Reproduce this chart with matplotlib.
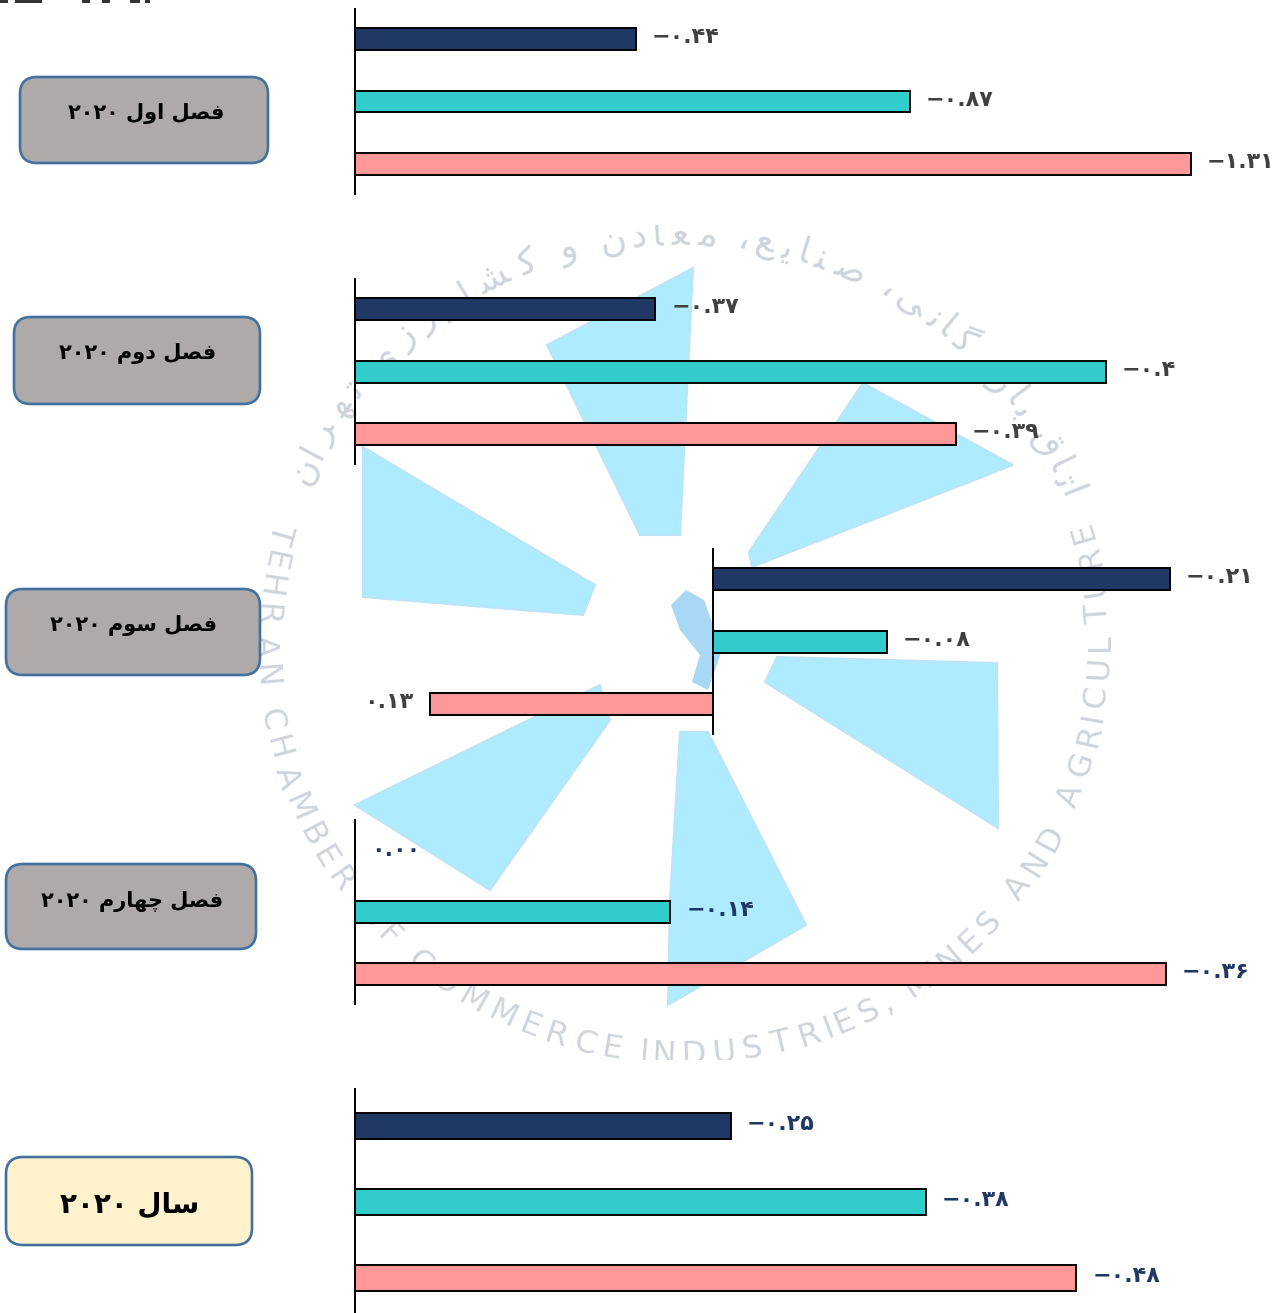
import numpy as np
import matplotlib
matplotlib.use('Agg')
import matplotlib.pyplot as plt
from matplotlib.patches import FancyBboxPatch, Polygon, Rectangle
from matplotlib.textpath import TextPath

plt.rcParams['font.family'] = ['DejaVu Sans']

W, H = 1280, 1313

# Data
box_titles = ['فصل اول ۲۰۲۰', 'فصل دوم ۲۰۲۰', 'فصل سوم ۲۰۲۰', 'فصل چهارم ۲۰۲۰', 'سال ۲۰۲۰']

# bar lengths, negative goes to the right (axis is reversed in the original)
values_q1 = [-0.44, -0.87, -1.31]
values_q2 = [-0.16, -0.40, -0.32]   # printed labels of q2 do not follow the bar lengths
values_q3 = [-0.21, -0.08, 0.13]
values_q4 = [0.00, -0.14, -0.36]
values_year = [-0.25, -0.38, -0.48]

labels_q1 = ['−۰.۴۴', '−۰.۸۷', '−۱.۳۱']
labels_q2 = ['−۰.۳۷', '−۰.۴', '−۰.۳۹']
labels_q3 = ['−۰.۲۱', '−۰.۰۸', '۰.۱۳']
labels_q4 = ['۰.۰۰', '−۰.۱۴', '−۰.۳۶']
labels_year = ['−۰.۲۵', '−۰.۳۸', '−۰.۴۸']

bar_colors = ['#1F3864', '#33CCCC', '#FF9999']

ring_en = 'TEHRAN CHAMBER OF COMMERCE INDUSTRIES, MINES AND AGRICULTURE'
ring_fa = 'اتاق بازرگانی، صنایع، معادن و کشاورزی تهران'

# Functions
FORMS = {'ا': 'ﺍﺎ', 'د': 'ﺩﺪ', 'ر': 'ﺭﺮ', 'ز': 'ﺯﺰ', 'و': 'ﻭﻮ',
         'ب': 'ﺏﺐﺑﺒ', 'ت': 'ﺕﺖﺗﺘ', 'س': 'ﺱﺲﺳﺴ', 'ش': 'ﺵﺶﺷﺸ', 'ص': 'ﺹﺺﺻﺼ',
         'ع': 'ﻉﻊﻋﻌ', 'ف': 'ﻑﻒﻓﻔ', 'ق': 'ﻕﻖﻗﻘ', 'ل': 'ﻝﻞﻟﻠ', 'م': 'ﻡﻢﻣﻤ',
         'ن': 'ﻥﻦﻧﻨ', 'ه': 'ﻩﻪﻫﻬ', 'ی': 'ﯼﯽﯾﯿ', 'چ': 'ﭺﭻﭼﭽ', 'ک': 'ﮎﮏﮐﮑ', 'گ': 'ﮒﮓﮔﮕ'}


def shape_word(word):
    out = []
    for i, ch in enumerate(word):
        if ch not in FORMS:
            out.append(ch)
            continue
        prev_joins = i > 0 and word[i - 1] in FORMS and len(FORMS[word[i - 1]]) == 4
        next_joins = i < len(word) - 1 and word[i + 1] in FORMS and len(FORMS[ch]) == 4
        idx = {(False, False): 0, (True, False): 1, (False, True): 2, (True, True): 3}[(prev_joins, next_joins)]
        out.append(FORMS[ch][idx])
    return ''.join(reversed(out))


def shape(text):
    # matplotlib has no bidi or shaping, so build the visual order by hand
    words = []
    for w in reversed(text.split(' ')):
        words.append(w if w[0] in '۰۱۲۳۴۵۶۷۸۹' else shape_word(w))
    return ' '.join(words)


def px_axes(x0, y0, x1, y1):
    # axes from pixel box, y from the top of the image
    return fig.add_axes([x0 / W, 1 - y1 / H, (x1 - x0) / W, (y1 - y0) / H])


def ring_text(ax, chars, start, stop, rot0, size):
    # spread the glyphs along the arc by their own width
    widths = []
    for ch in chars:
        if ch == ' ':
            widths.append(size * 0.35)
        else:
            widths.append(TextPath((0, 0), ch, size=size).get_extents().width + size * 0.14)
    widths = np.array(widths)
    edges = np.concatenate([[0], np.cumsum(widths)])
    mids = (edges[:-1] + edges[1:]) / 2 / edges[-1]
    for ch, m in zip(chars, mids):
        phi = np.radians(start + (stop - start) * m)
        x = 682 + 418 * np.cos(phi)
        y = 645 + 410 * np.sin(phi)
        ax.text(x, y, ch, fontsize=size, color='#CFD4DA', ha='center', va='center',
                rotation=rot0 - np.degrees(phi), rotation_mode='anchor', clip_on=True)


def panel(values, labels, top, bottom, axis_px, scale, label_color):
    ax = px_axes(0, top, W, bottom)
    ax.patch.set_alpha(0)
    ax.axis('off')
    ax.set_xlim(axis_px / scale, -(W - axis_px) / scale)
    ax.set_ylim(2.5, -0.5)
    ypos = np.arange(len(values))
    bar_h = 22 / ((bottom - top) / 3)
    if bottom > 1313:
        bar_h = 0.345
    ax.barh(ypos, values, height=bar_h, color=bar_colors, edgecolor='black', linewidth=1.4, zorder=3)
    ax.axvline(0, color='black', linewidth=1.4, zorder=4)
    for y, v, lab in zip(ypos, values, labels):
        if v == 0:
            dx, dy, ha = 16, 0, 'left'
        elif v > 0:
            dx, dy, ha = -17, 2, 'right'
        else:
            dx, dy, ha = 16, 2, 'left'
        ax.annotate(lab, (v, y), xytext=(dx * 0.72, dy * 0.72), textcoords='offset points',
                    ha=ha, va='center', fontsize=16, fontweight='bold', color=label_color,
                    annotation_clip=False, zorder=5)


fig = plt.figure(figsize=(W / 100, H / 100), dpi=100, facecolor='white')

# Watermark
wm = px_axes(220, 225, 1130, 1060)
wm.set_xlim(220, 1130)
wm.set_ylim(1060, 225)
wm.axis('off')
blades = [
    [(547, 345), (693, 268), (680, 535), (640, 535)],
    [(863, 383), (1013, 465), (752, 567), (749, 552)],
    [(777, 657), (997, 663), (998, 828), (765, 682)],
    [(680, 732), (708, 732), (806, 925), (668, 1005), (670, 900)],
    [(600, 685), (610, 720), (490, 890), (355, 805)],
    [(363, 447), (595, 585), (583, 615), (363, 597)],
]
for b in blades:
    wm.add_patch(Polygon(b, closed=True, facecolor='#AEEBFF', edgecolor='#BCE4F7', linewidth=1.5))
wm.add_patch(Polygon([(671, 605), (686, 590), (704, 600), (722, 650), (708, 690), (692, 682),
                      (700, 655), (680, 630)], closed=True, facecolor='#A8D8F5', edgecolor='none'))
ring_text(wm, list(ring_en), 198, -18, 90, 23)
ring_text(wm, list(shape(ring_fa)), 203, 339, 270, 26)

# Boxes and fragments on a pixel layer
bg = px_axes(0, 0, W, H)
bg.set_xlim(0, W)
bg.set_ylim(H, 0)
bg.patch.set_alpha(0)
bg.axis('off')

box_rects = [(20, 77, 268, 163), (14, 317, 260, 404), (6, 589, 260, 675), (6, 864, 256, 949), (6, 1157, 252, 1245)]
text_xy = [(146, 113), (138, 353), (134, 625), (132, 901), (130, 1205)]
for i, (r, t, xy) in enumerate(zip(box_rects, box_titles, text_xy)):
    last = i == len(box_titles) - 1
    bg.add_patch(FancyBboxPatch((r[0] + 15, r[1] + 15), r[2] - r[0] - 30, r[3] - r[1] - 30,
                                boxstyle='round,pad=15,rounding_size=17',
                                facecolor='#FFF2CC' if last else '#AEAAAA', edgecolor='#41719C', linewidth=1.9))
    bg.text(xy[0], xy[1], shape(t), ha='center', va='center', color='black', fontweight='bold',
            fontsize=20 if last else 15)

# bottom edge of a heading cut off by the top of the image
for x0, x1 in [(0, 8), (15, 42), (82, 90), (102, 110), (130, 140), (145, 150)]:
    bg.add_patch(Rectangle((x0, 0), x1 - x0, 2.5, facecolor='#333333', edgecolor='none'))

# Bars
panel(values_q1, labels_q1, 8, 195, 355, 638, '#404040')
panel(values_q2, labels_q2, 278, 465, 355, 1877, '#404040')
panel(values_q3, labels_q3, 548, 735, 713, 2176, '#404040')
panel(values_q4, labels_q4, 819, 1005, 355, 2253, '#1F3864')
panel(values_year, labels_year, 1088, 1316, 355, 1503, '#1F3864')

fig.savefig('out.png', dpi=100)
